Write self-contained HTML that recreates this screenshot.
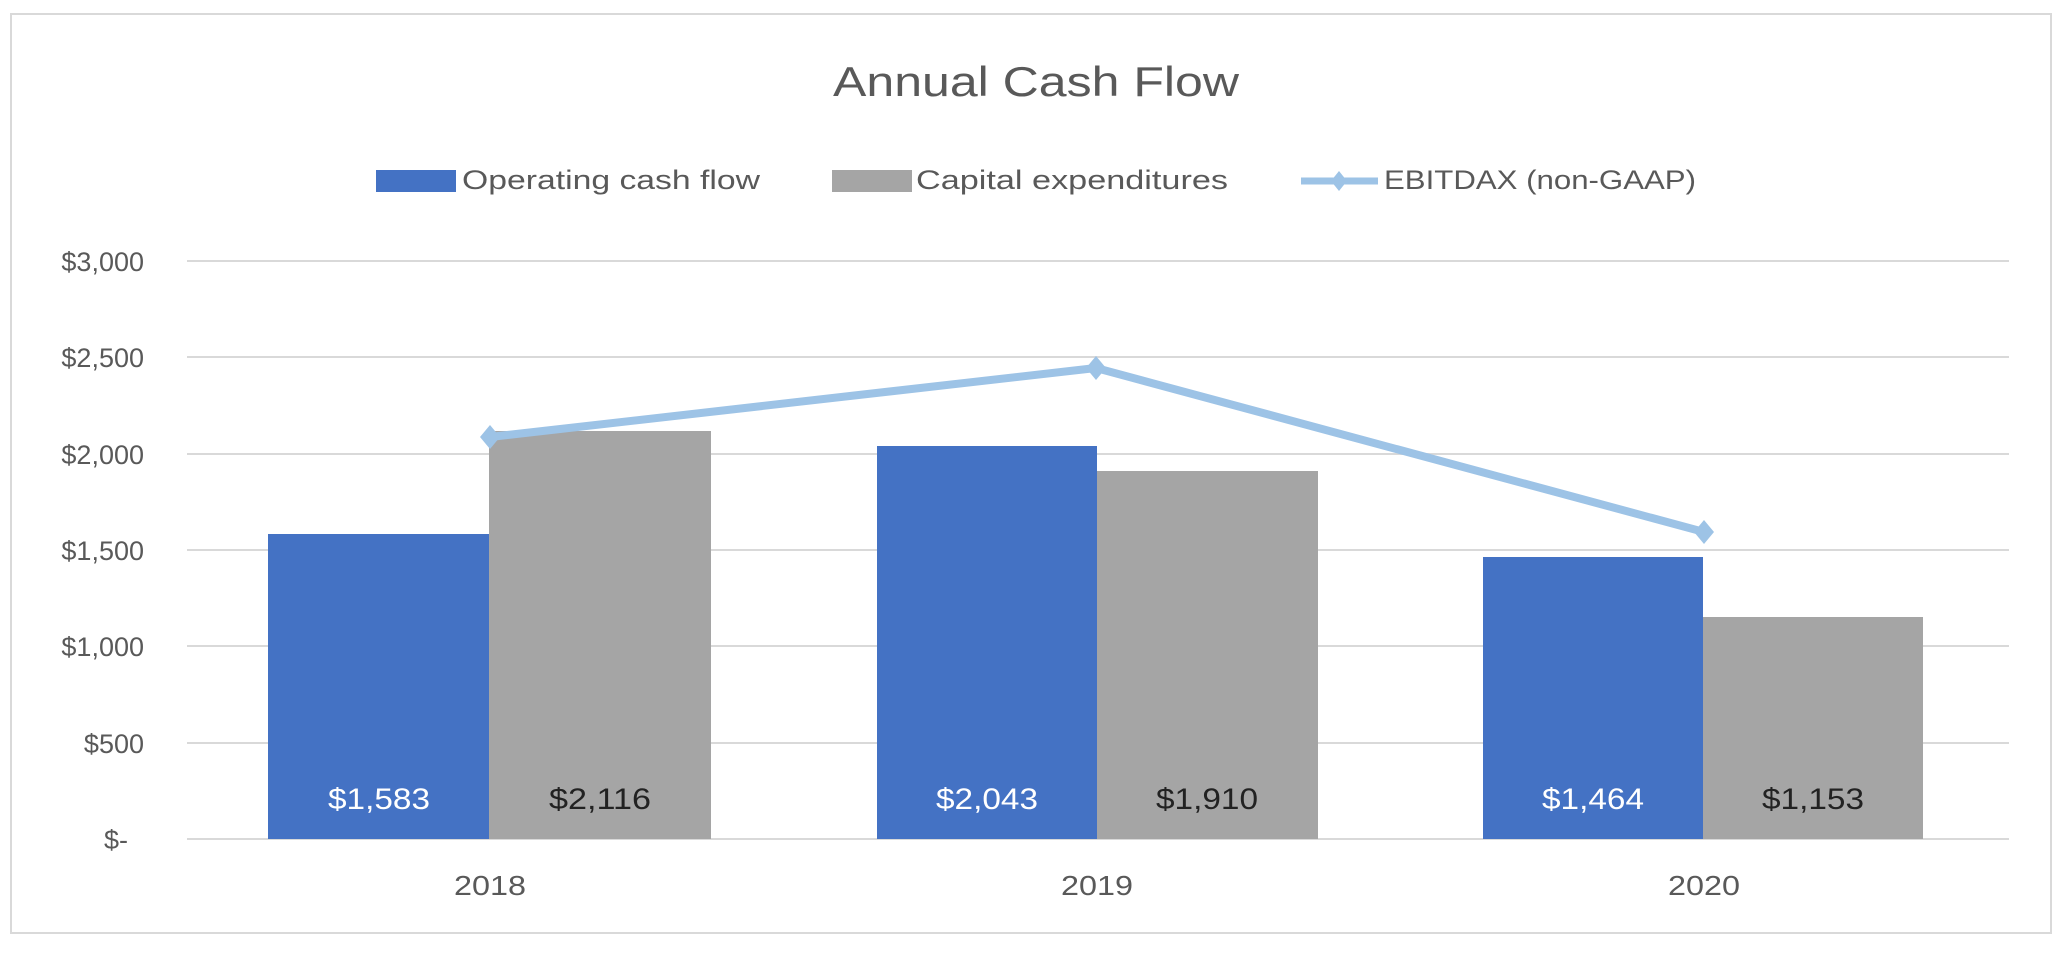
<!DOCTYPE html>
<html><head><meta charset="utf-8"><style>
html,body{margin:0;padding:0;background:#fff;}
svg{display:block;}
text{font-family:"Liberation Sans",sans-serif;}
</style></head><body>
<svg width="2072" height="957" viewBox="0 0 2072 957" xmlns="http://www.w3.org/2000/svg">
<rect x="0" y="0" width="2072" height="957" fill="#fff"/>
<rect x="11" y="14" width="2040" height="919" fill="none" stroke="#d9d9d9" stroke-width="2"/>
<text x="1036" y="96" text-anchor="middle" font-size="42" fill="#595959" textLength="406" lengthAdjust="spacingAndGlyphs">Annual Cash Flow</text>
<!-- legend -->
<rect x="376" y="170" width="80" height="22" fill="#4472c4"/>
<text x="462" y="189" font-size="27" fill="#595959" textLength="298" lengthAdjust="spacingAndGlyphs">Operating cash flow</text>
<rect x="832" y="170" width="80" height="22" fill="#a5a5a5"/>
<text x="916" y="189" font-size="27" fill="#595959" textLength="312" lengthAdjust="spacingAndGlyphs">Capital expenditures</text>
<line x1="1301" y1="181" x2="1378" y2="181" stroke="#9dc3e6" stroke-width="7"/>
<polygon points="1339,171 1347,181 1339,191 1331,181" fill="#9dc3e6"/>
<text x="1384" y="189" font-size="27" fill="#595959" textLength="312" lengthAdjust="spacingAndGlyphs">EBITDAX (non-GAAP)</text>
<!-- grid -->
<g stroke="#d9d9d9" stroke-width="2">
<line x1="187" y1="261" x2="2009" y2="261"/>
<line x1="187" y1="357" x2="2009" y2="357"/>
<line x1="187" y1="454" x2="2009" y2="454"/>
<line x1="187" y1="550" x2="2009" y2="550"/>
<line x1="187" y1="646" x2="2009" y2="646"/>
<line x1="187" y1="743" x2="2009" y2="743"/>
<line x1="187" y1="839" x2="2009" y2="839"/>
</g>
<g font-size="27" fill="#595959" text-anchor="end">
<text x="144" y="271">$3,000</text>
<text x="144" y="367">$2,500</text>
<text x="144" y="464">$2,000</text>
<text x="144" y="560">$1,500</text>
<text x="144" y="656">$1,000</text>
<text x="144" y="753">$500</text>
<text x="128" y="849">$-</text>
</g>
<!-- bars -->
<rect x="268" y="534" width="221" height="305" fill="#4472c4"/>
<rect x="489" y="431" width="222" height="408" fill="#a5a5a5"/>
<rect x="877" y="446" width="220" height="393" fill="#4472c4"/>
<rect x="1097" y="471" width="221" height="368" fill="#a5a5a5"/>
<rect x="1483" y="557" width="220" height="282" fill="#4472c4"/>
<rect x="1703" y="617" width="220" height="222" fill="#a5a5a5"/>
<!-- value labels -->
<g font-size="30" text-anchor="middle">
<text x="379" y="809" fill="#fff" textLength="102" lengthAdjust="spacingAndGlyphs">$1,583</text>
<text x="600" y="809" fill="#222" textLength="102" lengthAdjust="spacingAndGlyphs">$2,116</text>
<text x="987" y="809" fill="#fff" textLength="102" lengthAdjust="spacingAndGlyphs">$2,043</text>
<text x="1207" y="809" fill="#222" textLength="102" lengthAdjust="spacingAndGlyphs">$1,910</text>
<text x="1593" y="809" fill="#fff" textLength="102" lengthAdjust="spacingAndGlyphs">$1,464</text>
<text x="1813" y="809" fill="#222" textLength="102" lengthAdjust="spacingAndGlyphs">$1,153</text>
</g>
<!-- line -->
<polyline points="490,437 1096,368 1704,532" fill="none" stroke="#9dc3e6" stroke-width="8" stroke-linejoin="round"/>
<g fill="#9dc3e6">
<polygon points="490,425 500,437 490,449 480,437"/>
<polygon points="1096,356 1106,368 1096,380 1086,368"/>
<polygon points="1704,520 1714,532 1704,544 1694,532"/>
</g>
<!-- x labels -->
<g font-size="28" fill="#595959" text-anchor="middle">
<text x="490" y="895" textLength="72" lengthAdjust="spacingAndGlyphs">2018</text>
<text x="1097" y="895" textLength="72" lengthAdjust="spacingAndGlyphs">2019</text>
<text x="1704" y="895" textLength="72" lengthAdjust="spacingAndGlyphs">2020</text>
</g>
</svg>
</body></html>
